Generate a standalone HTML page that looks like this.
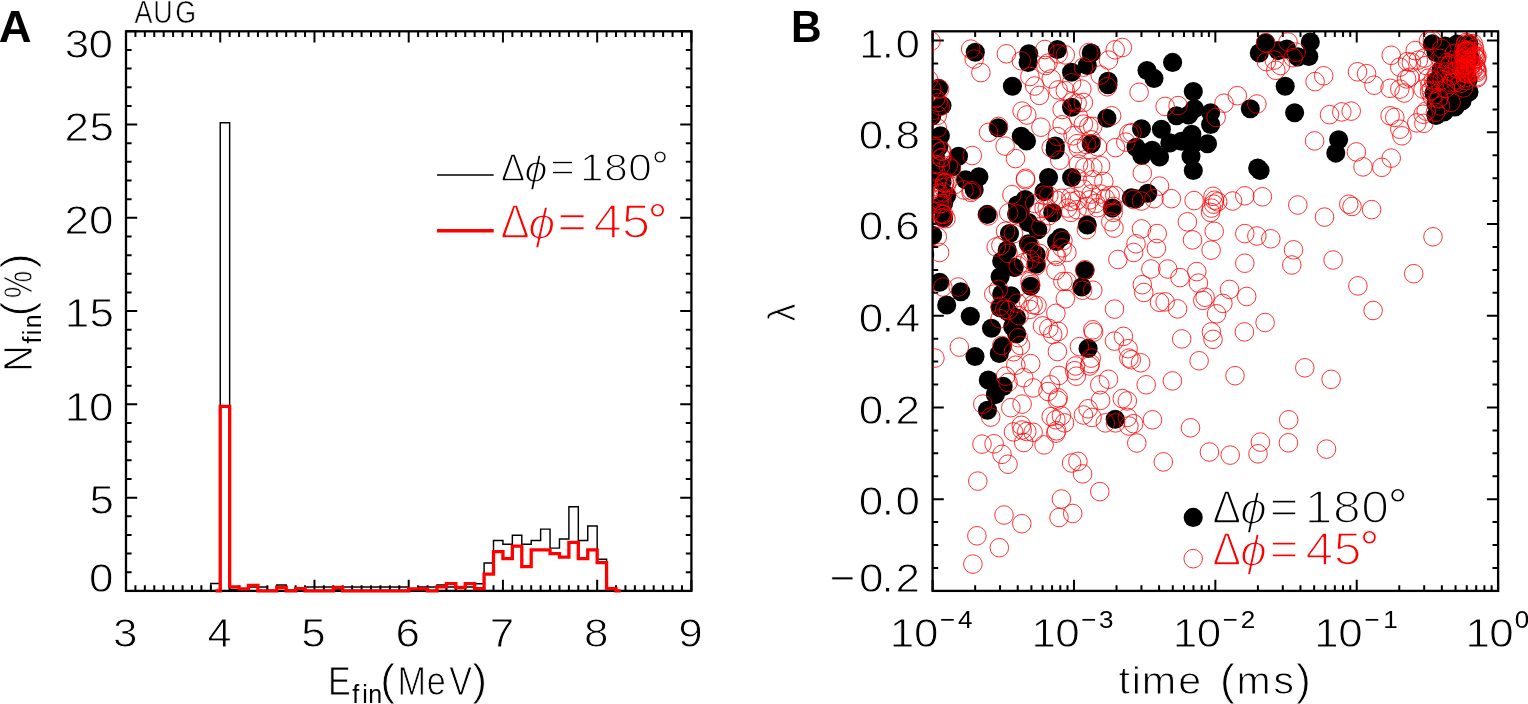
<!DOCTYPE html>
<html lang="en">
<head>
<meta charset="utf-8">
<title>AUG final energy and pitch</title>
<style>
html,body{margin:0;padding:0;background:#fff;}
body{width:1528px;height:704px;overflow:hidden;}
svg{display:block;font-family:"Liberation Sans","DejaVu Sans",sans-serif;}
</style>
</head>
<body>
<svg width="1528" height="704" viewBox="0 0 1528 704">
<rect x="0" y="0" width="1528" height="704" fill="#fff"/>
<text transform="translate(0 41.60) scale(1.0400 1)" x="-1.09" y="0" font-size="43.70" fill="#000" font-weight="bold">A</text>
<text transform="translate(0 41.60) scale(0.9700 1)" x="815.43" y="0" font-size="43.70" fill="#000" font-weight="bold">B</text>
<text transform="translate(0 22.80) scale(0.8500 1)" x="158.17 180.39 206.18" y="0" font-size="31.60" fill="#000" stroke="#fff" stroke-width="0.60" stroke-linejoin="round">AUG</text>
<text transform="translate(0 58.45) scale(1.0600 1)" x="61.20 83.61" y="0" font-size="41.55" fill="#000" stroke="#fff" stroke-width="0.90" stroke-linejoin="round">30</text>
<text transform="translate(0 140.75) scale(1.0600 1)" x="60.88 84.33" y="0" font-size="41.55" fill="#000" stroke="#fff" stroke-width="0.90" stroke-linejoin="round">25</text>
<text transform="translate(0 233.65) scale(1.0600 1)" x="60.88 83.90" y="0" font-size="41.55" fill="#000" stroke="#fff" stroke-width="0.90" stroke-linejoin="round">20</text>
<text transform="translate(0 327.05) scale(1.0600 1)" x="61.12 84.33" y="0" font-size="41.55" fill="#000" stroke="#fff" stroke-width="0.90" stroke-linejoin="round">15</text>
<text transform="translate(0 420.55) scale(1.0600 1)" x="61.12 83.90" y="0" font-size="41.55" fill="#000" stroke="#fff" stroke-width="0.90" stroke-linejoin="round">10</text>
<text transform="translate(0 513.75) scale(1.0600 1)" x="84.33" y="0" font-size="41.55" fill="#000" stroke="#fff" stroke-width="0.90" stroke-linejoin="round">5</text>
<text transform="translate(0 592.45) scale(1.0600 1)" x="83.90" y="0" font-size="41.55" fill="#000" stroke="#fff" stroke-width="0.90" stroke-linejoin="round">0</text>
<text transform="translate(0 647.25) scale(1.0600 1)" x="106.59" y="0" font-size="41.55" fill="#000" stroke="#fff" stroke-width="0.90" stroke-linejoin="round">3</text>
<text transform="translate(0 647.25) scale(1.0400 1)" x="199.48" y="0" font-size="41.55" fill="#000" stroke="#fff" stroke-width="0.90" stroke-linejoin="round">4</text>
<text transform="translate(0 647.25) scale(1.0600 1)" x="284.30" y="0" font-size="41.55" fill="#000" stroke="#fff" stroke-width="0.90" stroke-linejoin="round">5</text>
<text transform="translate(0 647.25) scale(1.0600 1)" x="373.02" y="0" font-size="41.55" fill="#000" stroke="#fff" stroke-width="0.90" stroke-linejoin="round">6</text>
<text transform="translate(0 647.25) scale(1.0600 1)" x="462.04" y="0" font-size="41.55" fill="#000" stroke="#fff" stroke-width="0.90" stroke-linejoin="round">7</text>
<text transform="translate(0 647.25) scale(1.0600 1)" x="550.96" y="0" font-size="41.55" fill="#000" stroke="#fff" stroke-width="0.90" stroke-linejoin="round">8</text>
<text transform="translate(0 647.25) scale(1.0600 1)" x="639.87" y="0" font-size="41.55" fill="#000" stroke="#fff" stroke-width="0.90" stroke-linejoin="round">9</text>
<g><text transform="translate(0 694.95) scale(0.8400 1)" x="390.53" y="0" font-size="40.70" fill="#000" stroke="#fff" stroke-width="0.90" stroke-linejoin="round">E</text><text x="352.25 362.13 368.34" y="703.30" font-size="25.00" fill="#000">fin</text><text x="380.18" y="694.95" font-size="44.60" fill="#000" stroke="#fff" stroke-width="0.90" stroke-linejoin="round">(</text><text transform="translate(0 694.95) scale(0.8400 1)" x="473.15 508.09 534.76" y="0" font-size="40.70" fill="#000" stroke="#fff" stroke-width="0.90" stroke-linejoin="round">MeV</text><text x="472.29" y="694.95" font-size="44.60" fill="#000" stroke="#fff" stroke-width="0.90" stroke-linejoin="round">)</text></g>
<g><text transform="translate(31.85 0) rotate(-90) scale(0.9000 1)" x="-413.06" y="0" font-size="40.70" fill="#000" stroke="#fff" stroke-width="0.90" stroke-linejoin="round">N</text><text transform="translate(41.10 0) rotate(-90) scale(1.0000 1)" x="-343.55 -335.27 -328.36" y="0" font-size="25.00" fill="#000">fin</text><text transform="translate(31.85 0) rotate(-90) scale(1.0000 1)" x="-316.52" y="0" font-size="44.60" fill="#000" stroke="#fff" stroke-width="0.90" stroke-linejoin="round">(</text><text transform="translate(31.85 0) rotate(-90) scale(0.7600 1)" x="-392.44" y="0" font-size="40.70" fill="#000" stroke="#fff" stroke-width="0.90" stroke-linejoin="round">%</text><text transform="translate(31.85 0) rotate(-90) scale(1.0000 1)" x="-268.31" y="0" font-size="44.60" fill="#000" stroke="#fff" stroke-width="0.90" stroke-linejoin="round">)</text></g>
<g><text transform="translate(0 181.45) scale(0.9200 1)" x="544.54" y="0" font-size="39.10" fill="#000" stroke="#fff" stroke-width="1.30" stroke-linejoin="round">Δ</text><text transform="translate(0 182.25) scale(1.1000 1)" x="476.93" y="0" font-size="37.50" fill="#000" font-style="italic" stroke="#fff" stroke-width="1.30" stroke-linejoin="round">ϕ</text><text transform="translate(0 181.45) scale(1.0800 1)" x="509.53 537.15 559.46 581.76" y="0" font-size="39.11" fill="#000" stroke="#fff" stroke-width="1.30" stroke-linejoin="round">=180</text><text x="651.44" y="181.40" font-size="43.00" fill="#000" stroke="#fff" stroke-width="0.80" stroke-linejoin="round">°</text></g>
<g><text transform="translate(0 238.35) scale(0.9200 1)" x="544.07" y="0" font-size="47.53" fill="#ff0000" stroke="#fff" stroke-width="1.70" stroke-linejoin="round">Δ</text><text transform="translate(0 239.25) scale(1.1000 1)" x="480.05" y="0" font-size="45.00" fill="#ff0000" font-style="italic" stroke="#fff" stroke-width="1.70" stroke-linejoin="round">ϕ</text><text transform="translate(0 238.35) scale(1.0800 1)" x="516.07 549.61 575.65" y="0" font-size="47.28" fill="#ff0000" stroke="#fff" stroke-width="1.70" stroke-linejoin="round">=45</text><text x="647.68" y="236.90" font-size="49.00" fill="#ff0000" stroke="#fff" stroke-width="0.80" stroke-linejoin="round">°</text></g>
<text transform="translate(0 58.35) scale(1.0600 1)" x="810.27 831.82 844.84" y="0" font-size="41.55" fill="#000" stroke="#fff" stroke-width="0.90" stroke-linejoin="round">1.0</text>
<text transform="translate(0 148.57) scale(1.0600 1)" x="810.22 831.82 844.85" y="0" font-size="41.55" fill="#000" stroke="#fff" stroke-width="0.90" stroke-linejoin="round">0.8</text>
<text transform="translate(0 240.28) scale(1.0600 1)" x="810.22 831.82 844.54" y="0" font-size="41.55" fill="#000" stroke="#fff" stroke-width="0.90" stroke-linejoin="round">0.6</text>
<text transform="translate(0 332.00) scale(1.0600 1)" x="810.22 831.82 845.13" y="0" font-size="41.55" fill="#000" stroke="#fff" stroke-width="0.90" stroke-linejoin="round">0.4</text>
<text transform="translate(0 423.72) scale(1.0600 1)" x="810.22 831.82 844.84" y="0" font-size="41.55" fill="#000" stroke="#fff" stroke-width="0.90" stroke-linejoin="round">0.2</text>
<text transform="translate(0 515.43) scale(1.0600 1)" x="810.22 831.82 844.84" y="0" font-size="41.55" fill="#000" stroke="#fff" stroke-width="0.90" stroke-linejoin="round">0.0</text>
<text transform="translate(0 592.45) scale(1.0600 1)" x="782.53 810.50 831.63 844.84" y="0" font-size="41.55" fill="#000" stroke="#fff" stroke-width="0.90" stroke-linejoin="round">−0.2</text>
<g><text transform="translate(0 647.15) scale(1.0600 1)" x="839.42 862.20" y="0" font-size="41.55" fill="#000" stroke="#fff" stroke-width="0.90" stroke-linejoin="round">10</text><text transform="translate(0 627.80) scale(1.0500 1)" x="895.25 912.29" y="0" font-size="24.80" fill="#000">−4</text></g>
<g><text transform="translate(0 647.15) scale(1.0600 1)" x="973.10 995.59" y="0" font-size="41.55" fill="#000" stroke="#fff" stroke-width="0.90" stroke-linejoin="round">10</text><text transform="translate(0 627.80) scale(1.0500 1)" x="1029.82 1046.58" y="0" font-size="24.80" fill="#000">−3</text></g>
<g><text transform="translate(0 647.15) scale(1.0600 1)" x="1106.30 1129.08" y="0" font-size="41.55" fill="#000" stroke="#fff" stroke-width="0.90" stroke-linejoin="round">10</text><text transform="translate(0 627.80) scale(1.0500 1)" x="1164.49 1181.71" y="0" font-size="24.80" fill="#000">−2</text></g>
<g><text transform="translate(0 647.15) scale(1.0600 1)" x="1239.89 1262.39" y="0" font-size="41.55" fill="#000" stroke="#fff" stroke-width="0.90" stroke-linejoin="round">10</text><text transform="translate(0 627.80) scale(1.0500 1)" x="1299.44 1317.38" y="0" font-size="24.80" fill="#000">−1</text></g>
<g><text transform="translate(0 647.15) scale(1.0600 1)" x="1382.53 1404.93" y="0" font-size="41.55" fill="#000" stroke="#fff" stroke-width="0.90" stroke-linejoin="round">10</text><text transform="translate(0 627.80) scale(1.0500 1)" x="1442.56" y="0" font-size="24.80" fill="#000">0</text></g>
<g><text transform="translate(0 694.15) scale(1.0600 1)" x="1055.21 1067.72 1077.17 1111.50 1133.19" y="0" font-size="39.00" fill="#000" stroke="#fff" stroke-width="0.90" stroke-linejoin="round">time </text><text x="1220.08" y="694.95" font-size="44.60" fill="#000" stroke="#fff" stroke-width="0.90" stroke-linejoin="round">(</text><text transform="translate(0 694.15) scale(1.0500 1)" x="1177.74 1212.77" y="0" font-size="39.00" fill="#000" stroke="#fff" stroke-width="0.90" stroke-linejoin="round">ms</text><text x="1295.89" y="694.95" font-size="44.60" fill="#000" stroke="#fff" stroke-width="0.90" stroke-linejoin="round">)</text></g>
<text transform="translate(794.75 0) rotate(-90) scale(0.9300 1)" x="-345.80" y="0" font-size="38.60" fill="#000" stroke="#fff" stroke-width="0.90" stroke-linejoin="round">λ</text>
<g><text transform="translate(0 523.25) scale(0.9200 1)" x="1317.91" y="0" font-size="46.37" fill="#000" stroke="#fff" stroke-width="1.70" stroke-linejoin="round">Δ</text><text transform="translate(0 524.05) scale(1.1000 1)" x="1127.26" y="0" font-size="44.00" fill="#000" font-style="italic" stroke="#fff" stroke-width="1.70" stroke-linejoin="round">ϕ</text><text transform="translate(0 523.25) scale(1.0800 1)" x="1175.57 1208.17 1234.25 1260.37" y="0" font-size="46.13" fill="#000" stroke="#fff" stroke-width="1.70" stroke-linejoin="round">=180</text><text x="1388.11" y="522.30" font-size="48.50" fill="#000" stroke="#fff" stroke-width="0.80" stroke-linejoin="round">°</text></g>
<g><text transform="translate(0 564.95) scale(0.9200 1)" x="1317.91" y="0" font-size="46.37" fill="#ff0000" stroke="#fff" stroke-width="1.70" stroke-linejoin="round">Δ</text><text transform="translate(0 565.75) scale(1.1000 1)" x="1127.26" y="0" font-size="44.00" fill="#ff0000" font-style="italic" stroke="#fff" stroke-width="1.70" stroke-linejoin="round">ϕ</text><text transform="translate(0 564.95) scale(1.0800 1)" x="1175.57 1208.80 1234.87" y="0" font-size="46.13" fill="#ff0000" stroke="#fff" stroke-width="1.70" stroke-linejoin="round">=45</text><text x="1359.71" y="563.80" font-size="48.50" fill="#ff0000" stroke="#fff" stroke-width="0.80" stroke-linejoin="round">°</text></g>
<path d="M210.81 590.90 L210.81 583.40 L220.23 583.40 L220.23 122.70 L229.66 122.70 L229.66 589.40 L239.08 589.40 L239.08 589.90 L248.50 589.90 L248.50 586.90 L257.93 586.90 L257.93 586.90 L267.35 586.90 L267.35 590.40 L276.77 590.40 L276.77 584.90 L286.20 584.90 L286.20 590.30 L295.62 590.30 L295.62 588.90 L305.04 588.90 L305.04 586.90 L314.47 586.90 L314.47 586.90 L323.89 586.90 L323.89 586.90 L333.31 586.90 L333.31 589.90 L342.74 589.90 L342.74 586.90 L352.16 586.90 L352.16 586.90 L361.58 586.90 L361.58 586.90 L371.01 586.90 L371.01 586.90 L380.43 586.90 L380.43 586.90 L389.85 586.90 L389.85 586.90 L399.28 586.90 L399.28 586.90 L408.70 586.90 L408.70 590.40 L418.12 590.40 L418.12 586.90 L427.55 586.90 L427.55 586.90 L436.97 586.90 L436.97 584.90 L446.39 584.90 L446.39 586.90 L455.82 586.90 L455.82 586.90 L465.24 586.90 L465.24 586.90 L474.66 586.90 L474.66 583.70 L484.09 583.70 L484.09 563.00 L493.51 563.00 L493.51 540.50 L502.93 540.50 L502.93 544.20 L512.36 544.20 L512.36 535.30 L521.78 535.30 L521.78 544.20 L531.20 544.20 L531.20 540.50 L540.63 540.50 L540.63 529.10 L550.05 529.10 L550.05 548.10 L559.47 548.10 L559.47 538.90 L568.90 538.90 L568.90 506.70 L578.32 506.70 L578.32 540.50 L587.74 540.50 L587.74 525.90 L597.17 525.90 L597.17 559.20 L606.59 559.20 L606.59 590.90" fill="none" stroke="#000" stroke-width="1.45" stroke-linejoin="miter"/>
<rect x="126.00" y="31.30" width="565.40" height="559.60" fill="none" stroke="#000" stroke-width="2.3"/>
<path d="M126.00 590.90v-11.20M126.00 31.30v11.20M135.42 590.90v-5.60M135.42 31.30v5.60M144.85 590.90v-5.60M144.85 31.30v5.60M154.27 590.90v-5.60M154.27 31.30v5.60M163.69 590.90v-5.60M163.69 31.30v5.60M173.12 590.90v-5.60M173.12 31.30v5.60M182.54 590.90v-5.60M182.54 31.30v5.60M191.96 590.90v-5.60M191.96 31.30v5.60M201.39 590.90v-5.60M201.39 31.30v5.60M210.81 590.90v-5.60M210.81 31.30v5.60M220.23 590.90v-11.20M220.23 31.30v11.20M229.66 590.90v-5.60M229.66 31.30v5.60M239.08 590.90v-5.60M239.08 31.30v5.60M248.50 590.90v-5.60M248.50 31.30v5.60M257.93 590.90v-5.60M257.93 31.30v5.60M267.35 590.90v-5.60M267.35 31.30v5.60M276.77 590.90v-5.60M276.77 31.30v5.60M286.20 590.90v-5.60M286.20 31.30v5.60M295.62 590.90v-5.60M295.62 31.30v5.60M305.04 590.90v-5.60M305.04 31.30v5.60M314.47 590.90v-11.20M314.47 31.30v11.20M323.89 590.90v-5.60M323.89 31.30v5.60M333.31 590.90v-5.60M333.31 31.30v5.60M342.74 590.90v-5.60M342.74 31.30v5.60M352.16 590.90v-5.60M352.16 31.30v5.60M361.58 590.90v-5.60M361.58 31.30v5.60M371.01 590.90v-5.60M371.01 31.30v5.60M380.43 590.90v-5.60M380.43 31.30v5.60M389.85 590.90v-5.60M389.85 31.30v5.60M399.28 590.90v-5.60M399.28 31.30v5.60M408.70 590.90v-11.20M408.70 31.30v11.20M418.12 590.90v-5.60M418.12 31.30v5.60M427.55 590.90v-5.60M427.55 31.30v5.60M436.97 590.90v-5.60M436.97 31.30v5.60M446.39 590.90v-5.60M446.39 31.30v5.60M455.82 590.90v-5.60M455.82 31.30v5.60M465.24 590.90v-5.60M465.24 31.30v5.60M474.66 590.90v-5.60M474.66 31.30v5.60M484.09 590.90v-5.60M484.09 31.30v5.60M493.51 590.90v-5.60M493.51 31.30v5.60M502.93 590.90v-11.20M502.93 31.30v11.20M512.36 590.90v-5.60M512.36 31.30v5.60M521.78 590.90v-5.60M521.78 31.30v5.60M531.20 590.90v-5.60M531.20 31.30v5.60M540.63 590.90v-5.60M540.63 31.30v5.60M550.05 590.90v-5.60M550.05 31.30v5.60M559.47 590.90v-5.60M559.47 31.30v5.60M568.90 590.90v-5.60M568.90 31.30v5.60M578.32 590.90v-5.60M578.32 31.30v5.60M587.74 590.90v-5.60M587.74 31.30v5.60M597.17 590.90v-11.20M597.17 31.30v11.20M606.59 590.90v-5.60M606.59 31.30v5.60M616.01 590.90v-5.60M616.01 31.30v5.60M625.44 590.90v-5.60M625.44 31.30v5.60M634.86 590.90v-5.60M634.86 31.30v5.60M644.28 590.90v-5.60M644.28 31.30v5.60M653.71 590.90v-5.60M653.71 31.30v5.60M663.13 590.90v-5.60M663.13 31.30v5.60M672.55 590.90v-5.60M672.55 31.30v5.60M681.98 590.90v-5.60M681.98 31.30v5.60M691.40 590.90v-11.20M691.40 31.30v11.20M126.00 590.90h11.20M691.40 590.90h-11.20M126.00 572.25h5.60M691.40 572.25h-5.60M126.00 553.59h5.60M691.40 553.59h-5.60M126.00 534.94h5.60M691.40 534.94h-5.60M126.00 516.29h5.60M691.40 516.29h-5.60M126.00 497.63h11.20M691.40 497.63h-11.20M126.00 478.98h5.60M691.40 478.98h-5.60M126.00 460.33h5.60M691.40 460.33h-5.60M126.00 441.67h5.60M691.40 441.67h-5.60M126.00 423.02h5.60M691.40 423.02h-5.60M126.00 404.37h11.20M691.40 404.37h-11.20M126.00 385.71h5.60M691.40 385.71h-5.60M126.00 367.06h5.60M691.40 367.06h-5.60M126.00 348.41h5.60M691.40 348.41h-5.60M126.00 329.75h5.60M691.40 329.75h-5.60M126.00 311.10h11.20M691.40 311.10h-11.20M126.00 292.45h5.60M691.40 292.45h-5.60M126.00 273.79h5.60M691.40 273.79h-5.60M126.00 255.14h5.60M691.40 255.14h-5.60M126.00 236.49h5.60M691.40 236.49h-5.60M126.00 217.83h11.20M691.40 217.83h-11.20M126.00 199.18h5.60M691.40 199.18h-5.60M126.00 180.53h5.60M691.40 180.53h-5.60M126.00 161.87h5.60M691.40 161.87h-5.60M126.00 143.22h5.60M691.40 143.22h-5.60M126.00 124.57h11.20M691.40 124.57h-11.20M126.00 105.91h5.60M691.40 105.91h-5.60M126.00 87.26h5.60M691.40 87.26h-5.60M126.00 68.61h5.60M691.40 68.61h-5.60M126.00 49.95h5.60M691.40 49.95h-5.60M126.00 31.30h11.20M691.40 31.30h-11.20" fill="none" stroke="#000" stroke-width="2.0"/>
<path d="M215.52 590.90 L215.52 590.90 L220.23 590.90 L220.23 406.40 L229.66 406.40 L229.66 586.90 L239.08 586.90 L239.08 588.90 L248.50 588.90 L248.50 585.40 L257.93 585.40 L257.93 590.90 L267.35 590.90 L267.35 590.90 L276.77 590.90 L276.77 587.50 L286.20 587.50 L286.20 590.90 L295.62 590.90 L295.62 588.60 L305.04 588.60 L305.04 590.90 L314.47 590.90 L314.47 590.90 L323.89 590.90 L323.89 590.90 L333.31 590.90 L333.31 587.50 L342.74 587.50 L342.74 590.90 L352.16 590.90 L352.16 590.90 L361.58 590.90 L361.58 590.90 L371.01 590.90 L371.01 590.90 L380.43 590.90 L380.43 590.90 L389.85 590.90 L389.85 590.90 L399.28 590.90 L399.28 590.90 L408.70 590.90 L408.70 588.90 L418.12 588.90 L418.12 588.90 L427.55 588.90 L427.55 590.90 L436.97 590.90 L436.97 586.90 L446.39 586.90 L446.39 583.70 L455.82 583.70 L455.82 587.50 L465.24 587.50 L465.24 583.70 L474.66 583.70 L474.66 588.70 L484.09 588.70 L484.09 574.10 L493.51 574.10 L493.51 551.70 L502.93 551.70 L502.93 558.70 L512.36 558.70 L512.36 546.20 L521.78 546.20 L521.78 566.60 L531.20 566.60 L531.20 549.90 L540.63 549.90 L540.63 549.90 L550.05 549.90 L550.05 553.60 L559.47 553.60 L559.47 557.20 L568.90 557.20 L568.90 542.30 L578.32 542.30 L578.32 558.70 L587.74 558.70 L587.74 549.90 L597.17 549.90 L597.17 562.60 L606.59 562.60 L606.59 588.70 L616.01 588.70 L616.01 590.90 L620.72 590.90 L620.72 590.90" fill="none" stroke="#ff0000" stroke-width="3.3" stroke-linejoin="miter"/>
<line x1="437.00" y1="175.00" x2="493.70" y2="175.00" stroke="#000" stroke-width="1.4" stroke-linecap="butt"/>
<line x1="437.00" y1="230.70" x2="493.70" y2="230.70" stroke="#ff0000" stroke-width="3.6" stroke-linecap="butt"/>
<rect x="932.60" y="31.30" width="565.50" height="559.60" fill="none" stroke="#000" stroke-width="2.3"/>
<path d="M932.60 590.90v-11.20M932.60 31.30v11.20M975.16 590.90v-5.60M975.16 31.30v5.60M1000.05 590.90v-5.60M1000.05 31.30v5.60M1017.72 590.90v-5.60M1017.72 31.30v5.60M1031.42 590.90v-5.60M1031.42 31.30v5.60M1042.61 590.90v-5.60M1042.61 31.30v5.60M1052.08 590.90v-5.60M1052.08 31.30v5.60M1060.27 590.90v-5.60M1060.27 31.30v5.60M1067.51 590.90v-5.60M1067.51 31.30v5.60M1073.97 590.90v-11.20M1073.97 31.30v11.20M1116.53 590.90v-5.60M1116.53 31.30v5.60M1141.43 590.90v-5.60M1141.43 31.30v5.60M1159.09 590.90v-5.60M1159.09 31.30v5.60M1172.79 590.90v-5.60M1172.79 31.30v5.60M1183.99 590.90v-5.60M1183.99 31.30v5.60M1193.45 590.90v-5.60M1193.45 31.30v5.60M1201.65 590.90v-5.60M1201.65 31.30v5.60M1208.88 590.90v-5.60M1208.88 31.30v5.60M1215.35 590.90v-11.20M1215.35 31.30v11.20M1257.91 590.90v-5.60M1257.91 31.30v5.60M1282.80 590.90v-5.60M1282.80 31.30v5.60M1300.47 590.90v-5.60M1300.47 31.30v5.60M1314.17 590.90v-5.60M1314.17 31.30v5.60M1325.36 590.90v-5.60M1325.36 31.30v5.60M1334.83 590.90v-5.60M1334.83 31.30v5.60M1343.02 590.90v-5.60M1343.02 31.30v5.60M1350.26 590.90v-5.60M1350.26 31.30v5.60M1356.72 590.90v-11.20M1356.72 31.30v11.20M1399.28 590.90v-5.60M1399.28 31.30v5.60M1424.18 590.90v-5.60M1424.18 31.30v5.60M1441.84 590.90v-5.60M1441.84 31.30v5.60M1455.54 590.90v-5.60M1455.54 31.30v5.60M1466.74 590.90v-5.60M1466.74 31.30v5.60M1476.20 590.90v-5.60M1476.20 31.30v5.60M1484.40 590.90v-5.60M1484.40 31.30v5.60M1491.63 590.90v-5.60M1491.63 31.30v5.60M1498.10 590.90v-11.20M1498.10 31.30v11.20M932.60 590.90h11.20M1498.10 590.90h-11.20M932.60 567.97h5.60M1498.10 567.97h-5.60M932.60 545.04h5.60M1498.10 545.04h-5.60M932.60 522.11h5.60M1498.10 522.11h-5.60M932.60 499.18h11.20M1498.10 499.18h-11.20M932.60 476.25h5.60M1498.10 476.25h-5.60M932.60 453.32h5.60M1498.10 453.32h-5.60M932.60 430.40h5.60M1498.10 430.40h-5.60M932.60 407.47h11.20M1498.10 407.47h-11.20M932.60 384.54h5.60M1498.10 384.54h-5.60M932.60 361.61h5.60M1498.10 361.61h-5.60M932.60 338.68h5.60M1498.10 338.68h-5.60M932.60 315.75h11.20M1498.10 315.75h-11.20M932.60 292.82h5.60M1498.10 292.82h-5.60M932.60 269.89h5.60M1498.10 269.89h-5.60M932.60 246.96h5.60M1498.10 246.96h-5.60M932.60 224.03h11.20M1498.10 224.03h-11.20M932.60 201.10h5.60M1498.10 201.10h-5.60M932.60 178.18h5.60M1498.10 178.18h-5.60M932.60 155.25h5.60M1498.10 155.25h-5.60M932.60 132.32h11.20M1498.10 132.32h-11.20M932.60 109.39h5.60M1498.10 109.39h-5.60M932.60 86.46h5.60M1498.10 86.46h-5.60M932.60 63.53h5.60M1498.10 63.53h-5.60M932.60 40.60h11.20M1498.10 40.60h-11.20" fill="none" stroke="#000" stroke-width="2.0"/>
<clipPath id="cb"><rect x="932.60" y="31.30" width="565.50" height="559.60"/></clipPath>
<g clip-path="url(#cb)">
<g fill="#000"><circle cx="975.3" cy="52.2" r="9.55"/><circle cx="1028.7" cy="53.8" r="9.55"/><circle cx="1028.1" cy="62.4" r="9.55"/><circle cx="1057.4" cy="49.5" r="9.55"/><circle cx="1091.2" cy="53.0" r="9.55"/><circle cx="1087.3" cy="65.5" r="9.55"/><circle cx="1071.6" cy="72.3" r="9.55"/><circle cx="1012.4" cy="86.3" r="9.55"/><circle cx="1108.0" cy="81.3" r="9.55"/><circle cx="1108.0" cy="84.7" r="9.55"/><circle cx="1147.0" cy="70.6" r="9.55"/><circle cx="1154.0" cy="78.4" r="9.55"/><circle cx="938.5" cy="88.3" r="9.55"/><circle cx="942.0" cy="105.6" r="9.55"/><circle cx="1071.6" cy="107.2" r="9.55"/><circle cx="1106.9" cy="118.2" r="9.55"/><circle cx="931.8" cy="116.1" r="9.55"/><circle cx="1172.6" cy="62.4" r="9.55"/><circle cx="1193.3" cy="91.5" r="9.55"/><circle cx="1194.4" cy="108.7" r="9.55"/><circle cx="1188.6" cy="115.0" r="9.55"/><circle cx="1176.5" cy="115.8" r="9.55"/><circle cx="1210.6" cy="112.7" r="9.55"/><circle cx="1210.6" cy="124.5" r="9.55"/><circle cx="1250.3" cy="108.7" r="9.55"/><circle cx="1285.2" cy="86.3" r="9.55"/><circle cx="1294.6" cy="112.7" r="9.55"/><circle cx="1265.6" cy="42.8" r="9.55"/><circle cx="1259.3" cy="53.0" r="9.55"/><circle cx="1278.1" cy="50.6" r="9.55"/><circle cx="1286.8" cy="49.1" r="9.55"/><circle cx="1297.8" cy="56.9" r="9.55"/><circle cx="1308.8" cy="56.4" r="9.55"/><circle cx="1310.3" cy="42.0" r="9.55"/><circle cx="998.2" cy="127.7" r="9.55"/><circle cx="1021.3" cy="136.2" r="9.55"/><circle cx="1026.5" cy="140.9" r="9.55"/><circle cx="1055.4" cy="146.1" r="9.55"/><circle cx="1055.1" cy="150.0" r="9.55"/><circle cx="1091.2" cy="143.7" r="9.55"/><circle cx="1141.5" cy="128.8" r="9.55"/><circle cx="1136.0" cy="147.2" r="9.55"/><circle cx="1141.8" cy="155.5" r="9.55"/><circle cx="1152.1" cy="150.3" r="9.55"/><circle cx="958.5" cy="156.3" r="9.55"/><circle cx="940.4" cy="135.8" r="9.55"/><circle cx="938.8" cy="146.8" r="9.55"/><circle cx="951.4" cy="167.3" r="9.55"/><circle cx="938.8" cy="168.8" r="9.55"/><circle cx="965.5" cy="179.8" r="9.55"/><circle cx="978.9" cy="176.7" r="9.55"/><circle cx="974.2" cy="189.7" r="9.55"/><circle cx="942.0" cy="181.4" r="9.55"/><circle cx="946.7" cy="195.5" r="9.55"/><circle cx="940.4" cy="206.5" r="9.55"/><circle cx="1048.5" cy="177.5" r="9.55"/><circle cx="1071.6" cy="177.5" r="9.55"/><circle cx="1044.1" cy="191.6" r="9.55"/><circle cx="1025.2" cy="199.5" r="9.55"/><circle cx="1017.4" cy="205.0" r="9.55"/><circle cx="1020.5" cy="211.2" r="9.55"/><circle cx="987.2" cy="214.4" r="9.55"/><circle cx="1052.7" cy="212.8" r="9.55"/><circle cx="1112.4" cy="208.1" r="9.55"/><circle cx="1131.3" cy="197.9" r="9.55"/><circle cx="1147.7" cy="193.2" r="9.55"/><circle cx="1161.4" cy="129.2" r="9.55"/><circle cx="1191.8" cy="134.3" r="9.55"/><circle cx="1169.8" cy="142.9" r="9.55"/><circle cx="1181.5" cy="141.3" r="9.55"/><circle cx="1193.3" cy="143.7" r="9.55"/><circle cx="1207.5" cy="143.7" r="9.55"/><circle cx="1159.6" cy="157.0" r="9.55"/><circle cx="1191.0" cy="156.3" r="9.55"/><circle cx="1193.3" cy="170.4" r="9.55"/><circle cx="1257.7" cy="168.0" r="9.55"/><circle cx="1260.1" cy="170.4" r="9.55"/><circle cx="1338.6" cy="139.8" r="9.55"/><circle cx="1335.8" cy="153.1" r="9.55"/><circle cx="1136.0" cy="198.7" r="9.55"/><circle cx="1087.3" cy="225.0" r="9.55"/><circle cx="943.6" cy="217.9" r="9.55"/><circle cx="1016.6" cy="214.0" r="9.55"/><circle cx="1028.4" cy="222.6" r="9.55"/><circle cx="1037.8" cy="229.7" r="9.55"/><circle cx="1009.5" cy="233.6" r="9.55"/><circle cx="1028.4" cy="243.8" r="9.55"/><circle cx="1007.2" cy="250.1" r="9.55"/><circle cx="1036.2" cy="254.8" r="9.55"/><circle cx="1001.7" cy="261.1" r="9.55"/><circle cx="1014.2" cy="267.4" r="9.55"/><circle cx="1036.2" cy="264.3" r="9.55"/><circle cx="1000.1" cy="276.8" r="9.55"/><circle cx="1030.7" cy="286.2" r="9.55"/><circle cx="1001.7" cy="294.1" r="9.55"/><circle cx="1011.1" cy="295.7" r="9.55"/><circle cx="1060.6" cy="237.5" r="9.55"/><circle cx="1056.6" cy="241.5" r="9.55"/><circle cx="1084.9" cy="270.5" r="9.55"/><circle cx="1081.8" cy="287.0" r="9.55"/><circle cx="939.6" cy="282.3" r="9.55"/><circle cx="960.8" cy="291.7" r="9.55"/><circle cx="932.6" cy="235.2" r="9.55"/><circle cx="924.7" cy="254.8" r="9.55"/><circle cx="946.7" cy="305.0" r="9.55"/><circle cx="970.3" cy="316.2" r="9.55"/><circle cx="1000.1" cy="307.8" r="9.55"/><circle cx="1008.0" cy="311.8" r="9.55"/><circle cx="1016.6" cy="318.1" r="9.55"/><circle cx="991.5" cy="328.3" r="9.55"/><circle cx="1012.7" cy="326.7" r="9.55"/><circle cx="1016.6" cy="333.8" r="9.55"/><circle cx="1002.5" cy="346.3" r="9.55"/><circle cx="999.3" cy="353.4" r="9.55"/><circle cx="975.0" cy="356.5" r="9.55"/><circle cx="1088.1" cy="348.4" r="9.55"/><circle cx="988.3" cy="380.1" r="9.55"/><circle cx="1003.2" cy="386.4" r="9.55"/><circle cx="995.4" cy="394.6" r="9.55"/><circle cx="987.5" cy="410.3" r="9.55"/><circle cx="1115.2" cy="419.3" r="9.55"/><circle cx="935.7" cy="157.8" r="9.55"/><circle cx="937.3" cy="176.7" r="9.55"/><circle cx="943.6" cy="203.4" r="9.55"/><circle cx="1432.4" cy="43.9" r="9.55"/><circle cx="1445.0" cy="46.0" r="9.55"/><circle cx="1457.0" cy="44.0" r="9.55"/><circle cx="1469.0" cy="44.0" r="9.55"/><circle cx="1447.0" cy="57.0" r="9.55"/><circle cx="1459.0" cy="56.0" r="9.55"/><circle cx="1470.0" cy="58.0" r="9.55"/><circle cx="1436.0" cy="52.5" r="9.55"/><circle cx="1441.0" cy="70.0" r="9.55"/><circle cx="1453.0" cy="68.0" r="9.55"/><circle cx="1465.0" cy="69.0" r="9.55"/><circle cx="1436.0" cy="81.0" r="9.55"/><circle cx="1446.0" cy="80.0" r="9.55"/><circle cx="1457.0" cy="79.0" r="9.55"/><circle cx="1468.0" cy="80.0" r="9.55"/><circle cx="1434.0" cy="93.0" r="9.55"/><circle cx="1446.0" cy="90.0" r="9.55"/><circle cx="1458.0" cy="91.0" r="9.55"/><circle cx="1469.0" cy="92.0" r="9.55"/><circle cx="1436.0" cy="104.0" r="9.55"/><circle cx="1448.0" cy="101.0" r="9.55"/><circle cx="1462.0" cy="101.0" r="9.55"/><circle cx="1455.0" cy="107.0" r="9.55"/><circle cx="1444.0" cy="112.0" r="9.55"/><circle cx="1436.0" cy="115.5" r="9.55"/></g>
<g fill="none" stroke="#ff0000" stroke-width="0.8"><circle cx="931.0" cy="41.2" r="9.3"/><circle cx="923.9" cy="49.8" r="9.3"/><circle cx="970.7" cy="49.1" r="9.3"/><circle cx="974.2" cy="59.0" r="9.3"/><circle cx="980.9" cy="72.6" r="9.3"/><circle cx="1006.4" cy="53.8" r="9.3"/><circle cx="1021.3" cy="60.8" r="9.3"/><circle cx="1044.9" cy="49.5" r="9.3"/><circle cx="1058.2" cy="53.8" r="9.3"/><circle cx="1065.3" cy="54.9" r="9.3"/><circle cx="1045.7" cy="65.5" r="9.3"/><circle cx="1048.0" cy="63.2" r="9.3"/><circle cx="1088.8" cy="52.5" r="9.3"/><circle cx="1083.4" cy="67.1" r="9.3"/><circle cx="1108.5" cy="60.1" r="9.3"/><circle cx="1115.2" cy="49.8" r="9.3"/><circle cx="1122.3" cy="47.5" r="9.3"/><circle cx="1100.2" cy="75.0" r="9.3"/><circle cx="1107.2" cy="86.8" r="9.3"/><circle cx="1139.1" cy="92.3" r="9.3"/><circle cx="1029.9" cy="76.5" r="9.3"/><circle cx="1034.7" cy="86.0" r="9.3"/><circle cx="1039.4" cy="95.4" r="9.3"/><circle cx="1051.2" cy="78.9" r="9.3"/><circle cx="1058.2" cy="89.9" r="9.3"/><circle cx="1065.3" cy="90.7" r="9.3"/><circle cx="1071.6" cy="82.8" r="9.3"/><circle cx="1081.8" cy="89.1" r="9.3"/><circle cx="1072.4" cy="101.7" r="9.3"/><circle cx="1077.1" cy="103.2" r="9.3"/><circle cx="1083.4" cy="102.5" r="9.3"/><circle cx="1062.1" cy="109.5" r="9.3"/><circle cx="1022.1" cy="111.1" r="9.3"/><circle cx="1026.8" cy="115.0" r="9.3"/><circle cx="1111.6" cy="115.8" r="9.3"/><circle cx="928.6" cy="79.7" r="9.3"/><circle cx="939.6" cy="89.1" r="9.3"/><circle cx="931.8" cy="89.1" r="9.3"/><circle cx="938.1" cy="102.5" r="9.3"/><circle cx="940.4" cy="106.4" r="9.3"/><circle cx="935.7" cy="98.5" r="9.3"/><circle cx="929.4" cy="115.8" r="9.3"/><circle cx="1078.6" cy="117.4" r="9.3"/><circle cx="1165.1" cy="106.4" r="9.3"/><circle cx="1178.1" cy="105.6" r="9.3"/><circle cx="1216.1" cy="117.4" r="9.3"/><circle cx="1224.0" cy="103.2" r="9.3"/><circle cx="1237.3" cy="95.7" r="9.3"/><circle cx="1256.9" cy="104.0" r="9.3"/><circle cx="1265.6" cy="42.8" r="9.3"/><circle cx="1288.0" cy="42.0" r="9.3"/><circle cx="1296.2" cy="52.2" r="9.3"/><circle cx="1266.4" cy="61.6" r="9.3"/><circle cx="1274.2" cy="60.1" r="9.3"/><circle cx="1280.5" cy="65.5" r="9.3"/><circle cx="1275.8" cy="70.3" r="9.3"/><circle cx="1293.1" cy="57.7" r="9.3"/><circle cx="1315.1" cy="81.6" r="9.3"/><circle cx="1323.7" cy="75.8" r="9.3"/><circle cx="1357.5" cy="71.8" r="9.3"/><circle cx="1366.6" cy="73.7" r="9.3"/><circle cx="1374.0" cy="85.2" r="9.3"/><circle cx="1329.5" cy="114.7" r="9.3"/><circle cx="1341.8" cy="111.9" r="9.3"/><circle cx="1351.2" cy="111.1" r="9.3"/><circle cx="1391.2" cy="55.3" r="9.3"/><circle cx="1415.2" cy="50.6" r="9.3"/><circle cx="1399.8" cy="67.1" r="9.3"/><circle cx="1407.4" cy="61.6" r="9.3"/><circle cx="1411.3" cy="62.4" r="9.3"/><circle cx="1418.4" cy="60.1" r="9.3"/><circle cx="1426.2" cy="65.5" r="9.3"/><circle cx="1390.1" cy="88.3" r="9.3"/><circle cx="1399.8" cy="89.1" r="9.3"/><circle cx="1404.2" cy="93.0" r="9.3"/><circle cx="1406.6" cy="78.9" r="9.3"/><circle cx="1409.7" cy="77.3" r="9.3"/><circle cx="1423.1" cy="89.1" r="9.3"/><circle cx="1390.1" cy="115.8" r="9.3"/><circle cx="1394.8" cy="117.4" r="9.3"/><circle cx="1416.8" cy="122.9" r="9.3"/><circle cx="1423.1" cy="114.2" r="9.3"/><circle cx="1426.2" cy="111.1" r="9.3"/><circle cx="1428.5" cy="40.7" r="9.3"/><circle cx="1432.4" cy="40.3" r="9.3"/><circle cx="1441.8" cy="48.6" r="9.3"/><circle cx="1424.6" cy="58.0" r="9.3"/><circle cx="998.5" cy="126.4" r="9.3"/><circle cx="988.6" cy="132.4" r="9.3"/><circle cx="1040.9" cy="127.2" r="9.3"/><circle cx="1005.1" cy="146.1" r="9.3"/><circle cx="1015.5" cy="158.6" r="9.3"/><circle cx="972.3" cy="155.5" r="9.3"/><circle cx="1025.5" cy="178.3" r="9.3"/><circle cx="1025.5" cy="179.8" r="9.3"/><circle cx="1011.9" cy="194.7" r="9.3"/><circle cx="971.8" cy="190.8" r="9.3"/><circle cx="971.0" cy="192.4" r="9.3"/><circle cx="964.0" cy="190.0" r="9.3"/><circle cx="988.3" cy="215.9" r="9.3"/><circle cx="1008.7" cy="212.8" r="9.3"/><circle cx="1062.1" cy="124.8" r="9.3"/><circle cx="1057.4" cy="136.6" r="9.3"/><circle cx="1083.4" cy="124.1" r="9.3"/><circle cx="1088.8" cy="126.4" r="9.3"/><circle cx="1092.8" cy="126.4" r="9.3"/><circle cx="1073.1" cy="135.8" r="9.3"/><circle cx="1077.1" cy="143.7" r="9.3"/><circle cx="1078.6" cy="148.4" r="9.3"/><circle cx="1086.5" cy="144.5" r="9.3"/><circle cx="1091.2" cy="139.8" r="9.3"/><circle cx="1097.5" cy="146.8" r="9.3"/><circle cx="1051.2" cy="147.6" r="9.3"/><circle cx="1059.8" cy="160.2" r="9.3"/><circle cx="1115.5" cy="147.6" r="9.3"/><circle cx="1125.8" cy="142.1" r="9.3"/><circle cx="1128.9" cy="133.5" r="9.3"/><circle cx="1132.0" cy="132.7" r="9.3"/><circle cx="1142.3" cy="173.2" r="9.3"/><circle cx="1159.5" cy="186.1" r="9.3"/><circle cx="1078.6" cy="164.1" r="9.3"/><circle cx="1084.9" cy="167.3" r="9.3"/><circle cx="1092.8" cy="167.3" r="9.3"/><circle cx="1100.6" cy="165.7" r="9.3"/><circle cx="1077.1" cy="178.3" r="9.3"/><circle cx="1092.8" cy="179.8" r="9.3"/><circle cx="1103.8" cy="181.4" r="9.3"/><circle cx="1083.4" cy="189.2" r="9.3"/><circle cx="1091.2" cy="194.0" r="9.3"/><circle cx="1100.6" cy="194.0" r="9.3"/><circle cx="1110.1" cy="195.5" r="9.3"/><circle cx="1114.8" cy="195.5" r="9.3"/><circle cx="1048.8" cy="195.5" r="9.3"/><circle cx="1056.6" cy="200.2" r="9.3"/><circle cx="1070.8" cy="197.1" r="9.3"/><circle cx="1077.1" cy="200.2" r="9.3"/><circle cx="1034.7" cy="203.4" r="9.3"/><circle cx="1044.1" cy="208.1" r="9.3"/><circle cx="1047.2" cy="208.1" r="9.3"/><circle cx="1067.6" cy="208.1" r="9.3"/><circle cx="1077.1" cy="209.7" r="9.3"/><circle cx="1086.5" cy="206.5" r="9.3"/><circle cx="1095.9" cy="203.4" r="9.3"/><circle cx="1133.6" cy="199.5" r="9.3"/><circle cx="1141.5" cy="201.0" r="9.3"/><circle cx="1154.0" cy="198.7" r="9.3"/><circle cx="1113.2" cy="206.5" r="9.3"/><circle cx="937.3" cy="128.0" r="9.3"/><circle cx="934.9" cy="146.8" r="9.3"/><circle cx="942.0" cy="157.8" r="9.3"/><circle cx="940.4" cy="165.7" r="9.3"/><circle cx="948.3" cy="165.7" r="9.3"/><circle cx="951.4" cy="168.8" r="9.3"/><circle cx="935.7" cy="172.0" r="9.3"/><circle cx="937.3" cy="181.4" r="9.3"/><circle cx="943.6" cy="187.7" r="9.3"/><circle cx="940.4" cy="194.0" r="9.3"/><circle cx="938.8" cy="200.2" r="9.3"/><circle cx="942.0" cy="203.4" r="9.3"/><circle cx="943.6" cy="214.4" r="9.3"/><circle cx="954.6" cy="184.5" r="9.3"/><circle cx="937.3" cy="115.4" r="9.3"/><circle cx="1314.6" cy="140.9" r="9.3"/><circle cx="1356.4" cy="151.9" r="9.3"/><circle cx="1363.0" cy="166.9" r="9.3"/><circle cx="1171.3" cy="198.7" r="9.3"/><circle cx="1194.1" cy="200.6" r="9.3"/><circle cx="1213.0" cy="196.3" r="9.3"/><circle cx="1214.5" cy="200.2" r="9.3"/><circle cx="1213.7" cy="204.2" r="9.3"/><circle cx="1217.7" cy="201.8" r="9.3"/><circle cx="1211.4" cy="208.1" r="9.3"/><circle cx="1232.6" cy="201.0" r="9.3"/><circle cx="1244.8" cy="195.8" r="9.3"/><circle cx="1262.4" cy="196.8" r="9.3"/><circle cx="1297.8" cy="205.0" r="9.3"/><circle cx="1348.8" cy="204.2" r="9.3"/><circle cx="1352.0" cy="206.5" r="9.3"/><circle cx="1399.8" cy="129.2" r="9.3"/><circle cx="1401.9" cy="135.8" r="9.3"/><circle cx="1423.9" cy="123.3" r="9.3"/><circle cx="1391.2" cy="158.1" r="9.3"/><circle cx="1381.8" cy="167.3" r="9.3"/><circle cx="1044.1" cy="195.1" r="9.3"/><circle cx="1061.4" cy="198.3" r="9.3"/><circle cx="1070.8" cy="201.4" r="9.3"/><circle cx="1089.6" cy="199.9" r="9.3"/><circle cx="1097.5" cy="207.7" r="9.3"/><circle cx="1105.3" cy="198.3" r="9.3"/><circle cx="1113.2" cy="212.4" r="9.3"/><circle cx="1070.8" cy="212.4" r="9.3"/><circle cx="945.9" cy="218.7" r="9.3"/><circle cx="1017.4" cy="214.0" r="9.3"/><circle cx="1038.6" cy="212.4" r="9.3"/><circle cx="1040.9" cy="226.6" r="9.3"/><circle cx="1048.8" cy="215.6" r="9.3"/><circle cx="1110.8" cy="221.8" r="9.3"/><circle cx="1114.0" cy="228.1" r="9.3"/><circle cx="1086.5" cy="229.7" r="9.3"/><circle cx="1141.5" cy="228.9" r="9.3"/><circle cx="1157.2" cy="233.6" r="9.3"/><circle cx="1005.6" cy="231.3" r="9.3"/><circle cx="1013.5" cy="233.6" r="9.3"/><circle cx="937.3" cy="236.8" r="9.3"/><circle cx="939.6" cy="252.5" r="9.3"/><circle cx="996.2" cy="247.0" r="9.3"/><circle cx="1000.9" cy="245.4" r="9.3"/><circle cx="1008.0" cy="253.3" r="9.3"/><circle cx="1029.9" cy="245.4" r="9.3"/><circle cx="1032.3" cy="251.7" r="9.3"/><circle cx="1039.4" cy="253.3" r="9.3"/><circle cx="1062.9" cy="240.7" r="9.3"/><circle cx="1062.1" cy="247.8" r="9.3"/><circle cx="1066.9" cy="252.5" r="9.3"/><circle cx="1055.1" cy="254.8" r="9.3"/><circle cx="1056.6" cy="256.4" r="9.3"/><circle cx="1136.0" cy="243.8" r="9.3"/><circle cx="1133.6" cy="252.5" r="9.3"/><circle cx="1156.4" cy="248.5" r="9.3"/><circle cx="1117.9" cy="259.5" r="9.3"/><circle cx="1018.2" cy="265.8" r="9.3"/><circle cx="1023.7" cy="262.7" r="9.3"/><circle cx="1029.9" cy="259.5" r="9.3"/><circle cx="1036.2" cy="265.8" r="9.3"/><circle cx="1055.9" cy="270.5" r="9.3"/><circle cx="1084.9" cy="269.7" r="9.3"/><circle cx="1150.9" cy="269.0" r="9.3"/><circle cx="942.8" cy="287.0" r="9.3"/><circle cx="958.2" cy="287.0" r="9.3"/><circle cx="993.8" cy="294.1" r="9.3"/><circle cx="998.5" cy="289.4" r="9.3"/><circle cx="1029.9" cy="281.5" r="9.3"/><circle cx="1030.7" cy="284.7" r="9.3"/><circle cx="1062.9" cy="281.5" r="9.3"/><circle cx="1066.9" cy="281.5" r="9.3"/><circle cx="1082.6" cy="290.2" r="9.3"/><circle cx="1092.8" cy="290.2" r="9.3"/><circle cx="1142.3" cy="284.7" r="9.3"/><circle cx="1143.8" cy="292.5" r="9.3"/><circle cx="1065.3" cy="298.8" r="9.3"/><circle cx="1371.6" cy="209.6" r="9.3"/><circle cx="1324.5" cy="217.1" r="9.3"/><circle cx="1210.6" cy="212.4" r="9.3"/><circle cx="1187.4" cy="221.8" r="9.3"/><circle cx="1214.2" cy="231.3" r="9.3"/><circle cx="1192.5" cy="239.9" r="9.3"/><circle cx="1211.1" cy="250.1" r="9.3"/><circle cx="1244.8" cy="233.6" r="9.3"/><circle cx="1256.9" cy="236.0" r="9.3"/><circle cx="1270.8" cy="238.8" r="9.3"/><circle cx="1293.5" cy="249.8" r="9.3"/><circle cx="1291.8" cy="265.0" r="9.3"/><circle cx="1244.8" cy="263.2" r="9.3"/><circle cx="1333.1" cy="260.0" r="9.3"/><circle cx="1167.7" cy="269.0" r="9.3"/><circle cx="1180.0" cy="277.6" r="9.3"/><circle cx="1196.8" cy="271.6" r="9.3"/><circle cx="1198.4" cy="283.1" r="9.3"/><circle cx="1229.5" cy="289.4" r="9.3"/><circle cx="1246.7" cy="296.5" r="9.3"/><circle cx="1205.1" cy="297.2" r="9.3"/><circle cx="1202.8" cy="300.4" r="9.3"/><circle cx="1357.9" cy="285.9" r="9.3"/><circle cx="1433.0" cy="236.8" r="9.3"/><circle cx="1413.7" cy="273.7" r="9.3"/><circle cx="1000.1" cy="306.3" r="9.3"/><circle cx="1004.8" cy="309.4" r="9.3"/><circle cx="1008.7" cy="310.2" r="9.3"/><circle cx="1019.0" cy="315.7" r="9.3"/><circle cx="1000.1" cy="318.8" r="9.3"/><circle cx="1017.4" cy="303.1" r="9.3"/><circle cx="1028.4" cy="301.6" r="9.3"/><circle cx="1033.1" cy="304.7" r="9.3"/><circle cx="1037.0" cy="305.5" r="9.3"/><circle cx="1029.9" cy="309.4" r="9.3"/><circle cx="1055.9" cy="313.3" r="9.3"/><circle cx="1114.5" cy="309.1" r="9.3"/><circle cx="1042.5" cy="325.9" r="9.3"/><circle cx="1048.8" cy="328.3" r="9.3"/><circle cx="1058.2" cy="331.4" r="9.3"/><circle cx="1052.7" cy="334.5" r="9.3"/><circle cx="1092.8" cy="329.8" r="9.3"/><circle cx="1093.6" cy="332.2" r="9.3"/><circle cx="1123.4" cy="336.4" r="9.3"/><circle cx="1114.5" cy="341.1" r="9.3"/><circle cx="1128.1" cy="348.7" r="9.3"/><circle cx="959.3" cy="347.1" r="9.3"/><circle cx="934.9" cy="358.1" r="9.3"/><circle cx="1001.7" cy="345.5" r="9.3"/><circle cx="1018.2" cy="337.7" r="9.3"/><circle cx="1020.5" cy="345.5" r="9.3"/><circle cx="1013.5" cy="351.8" r="9.3"/><circle cx="1057.4" cy="351.5" r="9.3"/><circle cx="1079.4" cy="346.6" r="9.3"/><circle cx="1091.2" cy="358.1" r="9.3"/><circle cx="1090.4" cy="363.6" r="9.3"/><circle cx="1089.6" cy="366.0" r="9.3"/><circle cx="1075.5" cy="366.0" r="9.3"/><circle cx="1074.7" cy="370.7" r="9.3"/><circle cx="1076.3" cy="376.2" r="9.3"/><circle cx="1128.9" cy="358.1" r="9.3"/><circle cx="1131.3" cy="359.7" r="9.3"/><circle cx="1140.7" cy="362.8" r="9.3"/><circle cx="1015.8" cy="365.2" r="9.3"/><circle cx="1030.7" cy="363.6" r="9.3"/><circle cx="1005.6" cy="376.2" r="9.3"/><circle cx="1023.7" cy="377.7" r="9.3"/><circle cx="1008.0" cy="382.5" r="9.3"/><circle cx="1059.0" cy="375.4" r="9.3"/><circle cx="1050.4" cy="384.8" r="9.3"/><circle cx="1033.1" cy="387.9" r="9.3"/><circle cx="1108.5" cy="379.3" r="9.3"/><circle cx="1099.8" cy="384.8" r="9.3"/><circle cx="1146.2" cy="384.8" r="9.3"/><circle cx="1159.5" cy="302.3" r="9.3"/><circle cx="1165.1" cy="301.9" r="9.3"/><circle cx="1177.6" cy="308.9" r="9.3"/><circle cx="1222.9" cy="303.4" r="9.3"/><circle cx="1216.6" cy="313.8" r="9.3"/><circle cx="1265.1" cy="322.5" r="9.3"/><circle cx="1244.4" cy="331.9" r="9.3"/><circle cx="1211.4" cy="331.9" r="9.3"/><circle cx="1213.0" cy="339.3" r="9.3"/><circle cx="1181.7" cy="338.9" r="9.3"/><circle cx="1199.1" cy="360.8" r="9.3"/><circle cx="1235.0" cy="375.7" r="9.3"/><circle cx="1304.8" cy="367.8" r="9.3"/><circle cx="1331.1" cy="379.3" r="9.3"/><circle cx="1172.4" cy="380.9" r="9.3"/><circle cx="1373.1" cy="310.5" r="9.3"/><circle cx="1048.0" cy="391.5" r="9.3"/><circle cx="1058.2" cy="397.8" r="9.3"/><circle cx="1057.4" cy="400.1" r="9.3"/><circle cx="1100.6" cy="400.4" r="9.3"/><circle cx="1122.3" cy="398.6" r="9.3"/><circle cx="1127.3" cy="400.9" r="9.3"/><circle cx="982.8" cy="404.1" r="9.3"/><circle cx="990.7" cy="417.1" r="9.3"/><circle cx="1010.8" cy="407.7" r="9.3"/><circle cx="1022.1" cy="404.1" r="9.3"/><circle cx="1088.1" cy="408.8" r="9.3"/><circle cx="1083.4" cy="415.0" r="9.3"/><circle cx="1092.0" cy="417.4" r="9.3"/><circle cx="1051.2" cy="416.6" r="9.3"/><circle cx="1055.9" cy="419.8" r="9.3"/><circle cx="1061.4" cy="415.8" r="9.3"/><circle cx="1064.5" cy="422.9" r="9.3"/><circle cx="1105.3" cy="422.9" r="9.3"/><circle cx="1127.3" cy="417.4" r="9.3"/><circle cx="1128.9" cy="426.0" r="9.3"/><circle cx="1133.6" cy="423.7" r="9.3"/><circle cx="1115.5" cy="422.9" r="9.3"/><circle cx="1152.5" cy="419.8" r="9.3"/><circle cx="1013.5" cy="431.9" r="9.3"/><circle cx="1021.3" cy="425.3" r="9.3"/><circle cx="1022.1" cy="430.0" r="9.3"/><circle cx="1026.8" cy="431.5" r="9.3"/><circle cx="1033.1" cy="432.3" r="9.3"/><circle cx="1055.9" cy="433.1" r="9.3"/><circle cx="1056.6" cy="430.8" r="9.3"/><circle cx="1023.7" cy="442.5" r="9.3"/><circle cx="1044.1" cy="444.9" r="9.3"/><circle cx="982.0" cy="444.1" r="9.3"/><circle cx="994.1" cy="443.8" r="9.3"/><circle cx="1002.0" cy="454.3" r="9.3"/><circle cx="1008.0" cy="464.2" r="9.3"/><circle cx="1136.8" cy="443.0" r="9.3"/><circle cx="1071.6" cy="463.0" r="9.3"/><circle cx="1077.9" cy="461.4" r="9.3"/><circle cx="1082.6" cy="473.9" r="9.3"/><circle cx="1190.5" cy="427.8" r="9.3"/><circle cx="1288.7" cy="419.8" r="9.3"/><circle cx="1288.4" cy="442.8" r="9.3"/><circle cx="1260.4" cy="442.1" r="9.3"/><circle cx="1258.0" cy="453.8" r="9.3"/><circle cx="1209.4" cy="452.0" r="9.3"/><circle cx="1230.2" cy="455.1" r="9.3"/><circle cx="1163.3" cy="461.9" r="9.3"/><circle cx="1326.5" cy="449.1" r="9.3"/><circle cx="977.8" cy="481.1" r="9.3"/><circle cx="1099.8" cy="491.6" r="9.3"/><circle cx="1061.4" cy="499.0" r="9.3"/><circle cx="1059.0" cy="517.5" r="9.3"/><circle cx="1072.7" cy="513.5" r="9.3"/><circle cx="1004.0" cy="515.0" r="9.3"/><circle cx="1021.8" cy="523.7" r="9.3"/><circle cx="976.9" cy="535.8" r="9.3"/><circle cx="999.3" cy="547.7" r="9.3"/><circle cx="972.9" cy="564.1" r="9.3"/><circle cx="1470.0" cy="62.2" r="9.3"/><circle cx="1476.3" cy="58.8" r="9.3"/><circle cx="1470.8" cy="63.1" r="9.3"/><circle cx="1466.5" cy="60.4" r="9.3"/><circle cx="1472.4" cy="70.5" r="9.3"/><circle cx="1465.3" cy="52.9" r="9.3"/><circle cx="1465.2" cy="71.1" r="9.3"/><circle cx="1473.2" cy="43.5" r="9.3"/><circle cx="1477.1" cy="76.7" r="9.3"/><circle cx="1472.7" cy="64.2" r="9.3"/><circle cx="1466.1" cy="42.5" r="9.3"/><circle cx="1471.0" cy="44.1" r="9.3"/><circle cx="1466.5" cy="50.7" r="9.3"/><circle cx="1464.4" cy="58.7" r="9.3"/><circle cx="1469.9" cy="72.3" r="9.3"/><circle cx="1470.9" cy="65.1" r="9.3"/><circle cx="1470.6" cy="65.8" r="9.3"/><circle cx="1470.1" cy="52.0" r="9.3"/><circle cx="1477.3" cy="77.8" r="9.3"/><circle cx="1475.2" cy="67.5" r="9.3"/><circle cx="1468.2" cy="50.3" r="9.3"/><circle cx="1467.8" cy="44.5" r="9.3"/><circle cx="1474.2" cy="56.4" r="9.3"/><circle cx="1475.3" cy="55.9" r="9.3"/><circle cx="1476.7" cy="72.5" r="9.3"/><circle cx="1464.0" cy="49.5" r="9.3"/><circle cx="1476.1" cy="58.9" r="9.3"/><circle cx="1477.0" cy="56.3" r="9.3"/><circle cx="1465.0" cy="64.7" r="9.3"/><circle cx="1474.4" cy="51.7" r="9.3"/><circle cx="1465.2" cy="54.0" r="9.3"/><circle cx="1476.8" cy="69.3" r="9.3"/><circle cx="1465.6" cy="50.9" r="9.3"/><circle cx="1465.3" cy="44.2" r="9.3"/><circle cx="1474.6" cy="48.4" r="9.3"/><circle cx="1471.4" cy="58.1" r="9.3"/><circle cx="1466.5" cy="68.3" r="9.3"/><circle cx="1465.7" cy="65.2" r="9.3"/><circle cx="1465.5" cy="57.1" r="9.3"/><circle cx="1466.8" cy="51.7" r="9.3"/><circle cx="1476.9" cy="70.9" r="9.3"/><circle cx="1468.0" cy="73.9" r="9.3"/><circle cx="1466.8" cy="56.2" r="9.3"/><circle cx="1475.4" cy="65.1" r="9.3"/><circle cx="1465.3" cy="77.6" r="9.3"/><circle cx="1466.8" cy="51.3" r="9.3"/><circle cx="1440.5" cy="106.0" r="9.3"/><circle cx="1430.0" cy="85.0" r="9.3"/><circle cx="1450.9" cy="76.0" r="9.3"/><circle cx="1451.7" cy="82.7" r="9.3"/><circle cx="1445.6" cy="88.4" r="9.3"/><circle cx="1433.3" cy="80.0" r="9.3"/><circle cx="1434.8" cy="83.0" r="9.3"/><circle cx="1466.0" cy="80.6" r="9.3"/><circle cx="1431.3" cy="90.5" r="9.3"/><circle cx="1466.5" cy="73.7" r="9.3"/><circle cx="1455.9" cy="82.5" r="9.3"/><circle cx="1460.8" cy="83.3" r="9.3"/><circle cx="1439.0" cy="98.2" r="9.3"/><circle cx="1456.5" cy="79.7" r="9.3"/><circle cx="1436.4" cy="75.0" r="9.3"/><circle cx="1438.5" cy="99.0" r="9.3"/><circle cx="1435.4" cy="112.4" r="9.3"/><circle cx="1438.0" cy="72.7" r="9.3"/><circle cx="1429.5" cy="91.6" r="9.3"/><circle cx="1442.1" cy="79.8" r="9.3"/><circle cx="1432.4" cy="97.2" r="9.3"/><circle cx="1463.5" cy="87.9" r="9.3"/><circle cx="1451.0" cy="102.4" r="9.3"/><circle cx="1428.4" cy="78.2" r="9.3"/><circle cx="1464.3" cy="72.8" r="9.3"/><circle cx="1453.1" cy="72.9" r="9.3"/><circle cx="1450.5" cy="63.9" r="9.3"/><circle cx="1446.3" cy="72.0" r="9.3"/><circle cx="1440.0" cy="58.4" r="9.3"/><circle cx="1457.2" cy="69.0" r="9.3"/><circle cx="1457.2" cy="63.1" r="9.3"/><circle cx="1458.6" cy="69.5" r="9.3"/><circle cx="1447.1" cy="62.6" r="9.3"/><circle cx="1461.4" cy="68.1" r="9.3"/><circle cx="1448.8" cy="65.7" r="9.3"/><circle cx="1460.5" cy="59.2" r="9.3"/><circle cx="1454.2" cy="53.5" r="9.3"/><circle cx="1453.1" cy="60.3" r="9.3"/><circle cx="934.8" cy="188.4" r="9.3"/><circle cx="936.9" cy="193.1" r="9.3"/><circle cx="941.0" cy="151.1" r="9.3"/><circle cx="931.2" cy="211.3" r="9.3"/><circle cx="935.1" cy="164.3" r="9.3"/><circle cx="946.9" cy="182.7" r="9.3"/><circle cx="944.4" cy="183.2" r="9.3"/><circle cx="941.2" cy="157.7" r="9.3"/><circle cx="941.2" cy="213.7" r="9.3"/><circle cx="939.4" cy="203.8" r="9.3"/><circle cx="941.7" cy="151.0" r="9.3"/><circle cx="943.1" cy="192.1" r="9.3"/><circle cx="935.8" cy="148.4" r="9.3"/><circle cx="944.8" cy="182.9" r="9.3"/><circle cx="942.5" cy="214.5" r="9.3"/><circle cx="942.4" cy="217.8" r="9.3"/></g>
</g>
<circle cx="1193.2" cy="517.4" r="9.55" fill="#000"/>
<circle cx="1193.2" cy="558.7" r="9.3" fill="none" stroke="#ff0000" stroke-width="0.8"/>
</svg>
</body>
</html>
